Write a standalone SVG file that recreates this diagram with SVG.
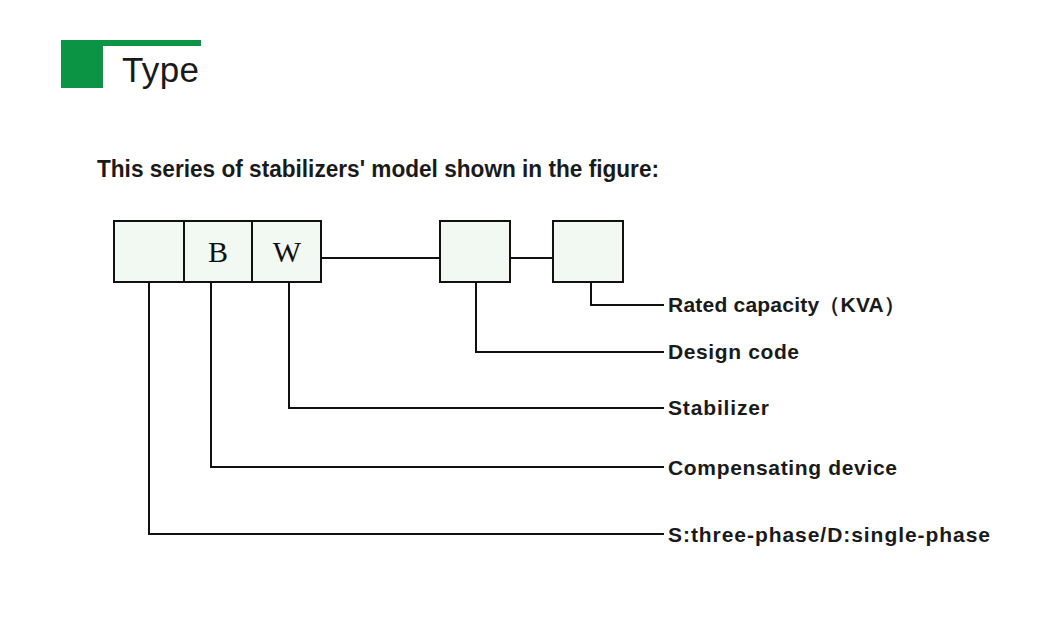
<svg xmlns="http://www.w3.org/2000/svg" width="1060" height="632" viewBox="0 0 1060 632">
<style>
.b{fill:#f2f8f2;stroke:#111;stroke-width:2}
.l{fill:none;stroke:#111;stroke-width:2}
.t{font-family:"Liberation Sans",Arial,sans-serif;font-size:21px;font-weight:bold;fill:#1a1a1a}
.s{font-family:"Liberation Serif",serif;font-size:30px;fill:#111}
</style>
<rect width="1060" height="632" fill="#fff"/>
<g id="header">
<rect x="61" y="40" width="140" height="6" fill="#0a9444"/>
<rect x="61" y="40" width="42" height="48" fill="#0a9444"/>
<text x="122" y="82" font-family="Liberation Sans,Arial,sans-serif" font-size="35" fill="#1a1a1a" textLength="77">Type</text>
</g>
<text x="97" y="177" font-family="Liberation Sans,Arial,sans-serif" font-size="23" font-weight="bold" fill="#1a1a1a" textLength="562" lengthAdjust="spacingAndGlyphs">This series of stabilizers' model shown in the figure:</text>
<g id="connectors">
<path class="l" d="M321 258H440M510 258H553"/>
<path class="l" d="M591 282V305H664"/>
<path class="l" d="M476 282V352H664"/>
<path class="l" d="M289 282V408H664"/>
<path class="l" d="M211 282V467H664"/>
<path class="l" d="M149 282V534H664"/>
</g>
<g id="box1"><rect class="b" x="114" y="221" width="70" height="61"/></g>
<g id="box2"><rect class="b" x="184" y="221" width="68" height="61"/><text class="s" x="218" y="262" text-anchor="middle">B</text></g>
<g id="box3"><rect class="b" x="252" y="221" width="69" height="61"/><text class="s" x="287" y="262" text-anchor="middle">W</text></g>
<g id="labels">
<text class="t" x="668" y="312" textLength="237">Rated capacity（KVA）</text>
<text class="t" x="668" y="359" textLength="131">Design code</text>
<text class="t" x="668" y="415" textLength="101">Stabilizer</text>
<text class="t" x="668" y="475" textLength="229">Compensating device</text>
<text class="t" x="668" y="542" textLength="322">S:three-phase/D:single-phase</text>
</g>
<g id="box4"><rect class="b" x="440" y="221" width="70" height="61"/></g>
<g id="box5"><rect class="b" x="553" y="221" width="70" height="61"/></g>
</svg>
